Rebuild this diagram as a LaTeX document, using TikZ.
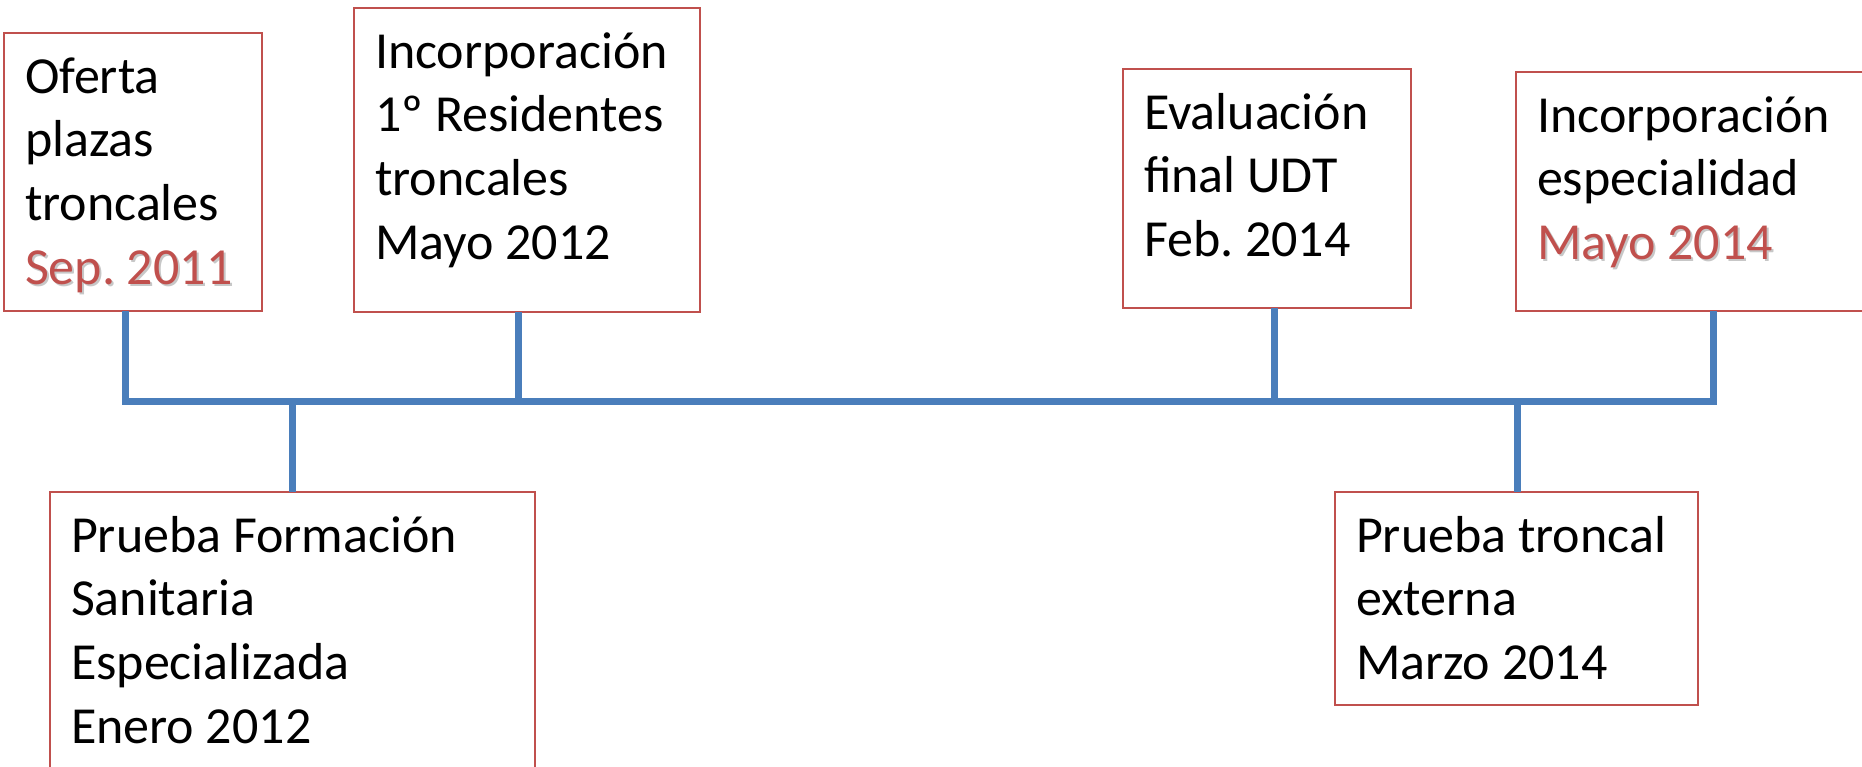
\documentclass[tikz,border=0pt]{standalone}
\usepackage{fontspec}
\setmainfont{Carlito}
\frenchspacing
\definecolor{azul}{HTML}{4A7EBB}
\definecolor{rojo}{HTML}{C0504D}
\newcommand{\fecha}[1]{\mbox{\makebox[0pt][l]{\hspace{2pt}\raisebox{-2pt}{\color{black!22}#1}}{\color{rojo}#1}}}
\tikzset{
  caja/.style={draw=rojo, line width=2pt, anchor=north west, align=flush left,
    inner xsep=21pt, inner ysep=0pt, outer sep=0pt, text height=60pt,
    font=\fontsize{52pt}{63.7pt}\selectfont},
  linea/.style={draw=azul, line width=7pt}
}
\begin{document}
\begin{tikzpicture}[x=1pt, y=-1pt]
\useasboundingbox (0,0) rectangle (1862,766);
% boxes above the line
\node[caja, text width=216pt, text depth=218pt] (oferta) at (4,33) {Oferta\\plazas\\troncales\\\fecha{Sep. 2011}};
\node[caja, text width=304pt, text depth=244pt] (incorp) at (354,8) {Incorporación\\1º Residentes\\troncales\\Mayo 2012};
\node[caja, text width=246pt, text depth=179pt] (evalua) at (1123,69) {Evaluación\\final UDT\\Feb. 2014};
\node[caja, text width=332pt, text depth=179pt] (especi) at (1516,72) {Incorporación\\especialidad\\\fecha{Mayo 2014}};
% boxes below the line
\node[caja, text width=443pt, text depth=248pt] (prueba) at (50,492) {Prueba Formación\\Sanitaria\\Especializada\\Enero 2012};
\node[caja, text width=321pt, text depth=153pt] (extern) at (1335,492) {Prueba troncal\\externa\\Marzo 2014};
% points on the time line
\coordinate (t1) at (125.5,401.5);
\coordinate (t2) at (292,401.5);
\coordinate (t3) at (518.5,401.5);
\coordinate (t4) at (1274.5,401.5);
\coordinate (t5) at (1517,401.5);
\coordinate (t6) at (1713,401.5);
\draw[linea, line cap=rect] (t1) -- (t6); %time line
\draw[linea] (t1) -- (t1 |- oferta.south); %Sep 2011
\draw[linea] (t3) -- (t3 |- incorp.south); %Mayo 2012
\draw[linea] (t4) -- (t4 |- evalua.south); %Feb 2014
\draw[linea] (t6) -- (t6 |- especi.south); %Mayo 2014
\draw[linea] (t2) -- (t2 |- prueba.north); %Enero 2012
\draw[linea] (t5) -- (t5 |- extern.north); %Marzo 2014
\end{tikzpicture}
\end{document}
